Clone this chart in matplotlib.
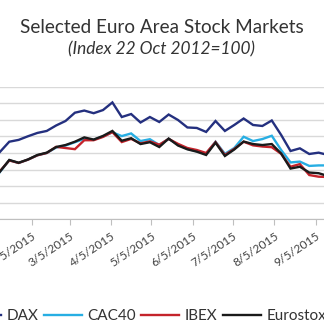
import matplotlib
matplotlib.use("Agg")
import matplotlib.pyplot as plt
import matplotlib.dates as mdates
import matplotlib.ticker as mticker
import pandas as pd

# weekly closes, index 22 Oct 2012 = 100
dates = pd.date_range("2015-01-12", periods=36, freq="7D")

dax = [140.6, 146.8, 147.9, 150.1, 152.1, 153.3, 156.6, 159.3, 164.3, 165.6,
       164.0, 165.9, 170.5, 161.7, 163.5, 158.4, 161.7, 158.7, 163.2, 159.9,
       155.4, 155.1, 152.7, 159.3, 153.3, 156.9, 160.8, 156.9, 156.3, 159.6,
       150.9, 141.2, 142.8, 139.4, 140.2, 138.8]
cac40 = [128.5, 135.6, 134.0, 136.0, 138.6, 140.0, 143.3, 144.5, 146.5, 148.5,
         148.0, 150.0, 152.5, 150.2, 151.8, 147.2, 148.3, 144.8, 148.5, 145.0,
         142.5, 141.0, 139.5, 146.8, 139.5, 143.0, 149.8, 147.2, 148.4, 150.4,
         141.8, 134.3, 134.8, 132.2, 132.5, 132.5]
ibex = [129.0, 135.5, 134.0, 136.0, 138.6, 140.0, 143.7, 143.0, 142.3, 147.7,
        147.7, 149.7, 152.6, 146.6, 148.5, 145.8, 147.0, 145.0, 148.5, 145.5,
        143.0, 141.8, 140.0, 146.6, 138.8, 142.5, 146.8, 144.6, 143.9, 143.5,
        139.5, 131.7, 133.3, 126.7, 125.7, 125.5]
eurostoxx = [128.7, 135.8, 134.1, 136.1, 138.8, 140.2, 143.6, 144.8, 146.8, 149.4,
             148.1, 150.3, 153.3, 147.4, 148.9, 145.4, 146.5, 143.6, 148.7, 144.5,
             142.2, 140.8, 138.8, 146.2, 138.2, 142.1, 146.9, 145.4, 144.8, 145.4,
             139.7, 130.6, 131.7, 128.2, 127.8, 126.1]

names = ["DAX", "CAC40", "IBEX", "Eurostoxx"]
colors = ["#24307f", "#27aee3", "#c4232b", "#1a1a1a"]

plt.rcParams["font.family"] = ["Lato", "DejaVu Sans"]

fig = plt.figure(figsize=(3.24, 3.32), dpi=100)
# chart is cropped: y labels and right end fall outside the picture
ax = fig.add_axes([0.0, 0.3395, 1.0, 0.3994])

for vals, name, col in zip([dax, cac40, ibex, eurostoxx], names, colors):
    ax.plot(dates, vals, color=col, lw=1.7, label=name, solid_joinstyle="miter")

ax.set_xlim(pd.Timestamp("2015-01-12 02:00"), pd.Timestamp("2015-09-11"))
ax.set_ylim(100, 180)
ax.yaxis.set_major_locator(mticker.MultipleLocator(10))
ax.yaxis.grid(True, color="#d9d9d9", lw=1)
ax.set_axisbelow(True)
ax.tick_params(axis="y", left=False, labelleft=False)

ax.xaxis.set_major_locator(mdates.MonthLocator(bymonthday=5))
ax.xaxis.set_major_formatter(
    mticker.FuncFormatter(lambda v, p: "{d.month}/{d.day}/{d.year}".format(d=mdates.num2date(v))))
ax.tick_params(axis="x", direction="out", length=4, color="#bfbfbf",
               labelsize=8.6, labelcolor="#404040", pad=4)
for lab in ax.get_xticklabels():
    lab.set_rotation(34)
    lab.set_ha("right")
    lab.set_va("top")
    lab.set_rotation_mode("anchor")

for s in ["top", "right", "left"]:
    ax.spines[s].set_visible(False)
ax.spines["bottom"].set_color("#bfbfbf")

fig.text(0.5, 0.918, "Selected Euro Area Stock Markets", ha="center", va="center",
         fontsize=13.6, color="#333333")
fig.text(0.5, 0.85, "(Index 22 Oct 2012=100)", ha="center", va="center",
         fontsize=12.4, style="italic", color="#333333")

fig.legend(loc="center left", bbox_to_anchor=(-37 / 324, 0.048), ncol=4, frameon=False,
           fontsize=11, handlelength=2.5, handletextpad=0.35, columnspacing=0.35,
           borderpad=0, borderaxespad=0, labelcolor="#333333")

fig.savefig("out.png", dpi=100)
